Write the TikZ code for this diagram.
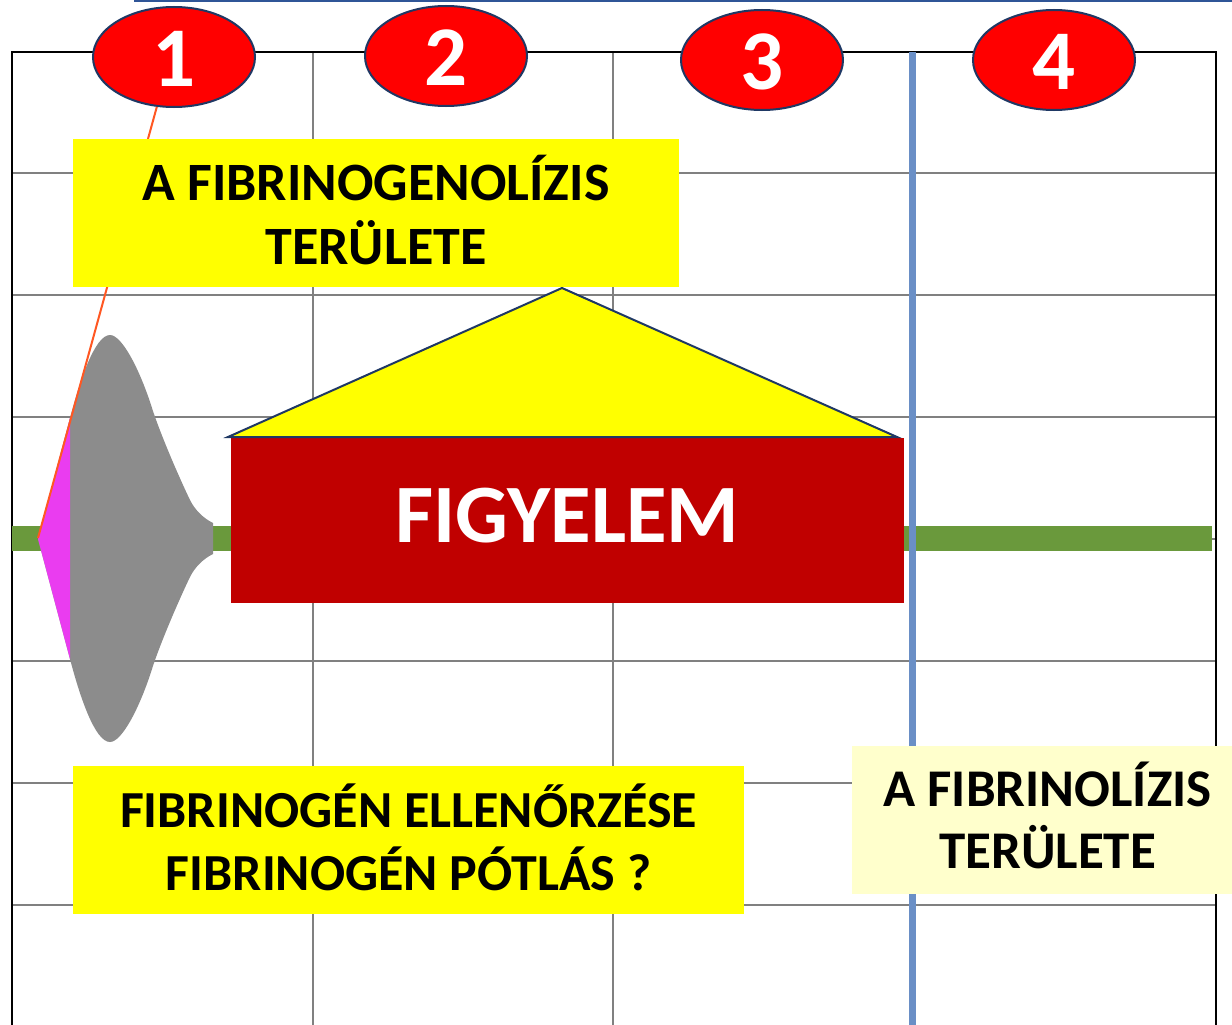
\documentclass[tikz,border=0pt]{standalone}
\usepackage{fontspec}
\setmainfont{Carlito}
\usetikzlibrary{shapes.geometric}
\definecolor{gridgrey}{RGB}{128,128,128}
\definecolor{topblue}{RGB}{47,85,151}
\definecolor{vblue}{RGB}{106,143,198}
\definecolor{lgreen}{RGB}{106,153,60}
\definecolor{spgrey}{RGB}{140,140,140}
\definecolor{magen}{RGB}{234,60,240}
\definecolor{orng}{RGB}{255,87,34}
\definecolor{navy}{RGB}{31,56,100}
\definecolor{darkred}{RGB}{192,0,0}
\definecolor{paleyel}{RGB}{255,255,204}
\definecolor{pureyel}{RGB}{255,255,0}
\definecolor{pured}{RGB}{255,0,0}
\begin{document}
\begin{tikzpicture}[x=1pt,y=-1pt,
  gridline/.style={draw=gridgrey,line width=1.6pt},
  frameline/.style={draw=black,line width=1.8pt},
  numell/.style={ellipse,draw=navy,line width=2pt,fill=pured,text=white,
    minimum width=162pt,minimum height=100pt,inner sep=0pt,
    font=\fontsize{85}{85}\selectfont\bfseries,text height=59pt,text depth=0pt},
  ybox/.style={rectangle,fill=pureyel,inner sep=0pt},
  palebox/.style={rectangle,fill=paleyel,inner sep=0pt},
  boxtext/.style={inner sep=0pt,align=center},
  warnbox/.style={rectangle,fill=darkred,inner sep=0pt,text=white,
    font=\fontsize{83}{83}\selectfont\bfseries,text height=53pt,text depth=8pt}]
\useasboundingbox (0,0) rectangle (1232,1025);
\clip (0,0) rectangle (1232,1025);
\fill[white] (0,0) rectangle (1232,1025);
% grid
\foreach \y in {173,295,417,539,661,783,905} \draw[gridline] (12,\y) -- (1216,\y);
\foreach \x in {313,613,912} \draw[gridline] (\x,52) -- (\x,1025);
\draw[frameline] (12,1025) -- (12,52) -- (1216,52) -- (1216,1025);
% top blue line
\draw[topblue,line width=2pt] (134,1) -- (1232,1);
% numbered ellipses
\node[numell] (e1) at (174,57) {1};
\node[numell] (e2) at (446,56) {2};
\node[numell] (e3) at (762,60) {3};
\node[numell] (e4) at (1054,60) {4};
% green baseline
\draw[lgreen,line width=25pt] (12,538.5) -- (1212,538.5);
% spindle
\fill[spgrey] (38,539) -- (70,418) .. controls (80,380) and (95,335) .. (110,335)
  .. controls (122,335) and (140,370) .. (152,408)
  .. controls (160,433) and (178,475) .. (190,500)
  .. controls (195,510) and (203,518) .. (213,523) -- (213,554)
  .. controls (203,559) and (195,567) .. (190,577)
  .. controls (178,602) and (160,644) .. (152,669)
  .. controls (140,707) and (122,742) .. (110,742)
  .. controls (95,742) and (80,697) .. (70,659) -- cycle;
\fill[magen] (38,539) -- (70,418) -- (70,659) -- cycle;
% orange line
\coordinate (tip) at (38,538);
\draw[orng,line width=2pt] (tip) -- (e1.251);
% top yellow box
\node[ybox,minimum width=606pt,minimum height=148pt] (fglbox) at (376,213) {};
\node[boxtext,font=\fontsize{54}{64}\selectfont\bfseries] (fgl)
  at ([yshift=3pt]fglbox.center) {A FIBRINOGENOLÍZIS\\TERÜLETE};
% red warning box and roof
\node[warnbox,minimum width=673pt,minimum height=165pt] (warn) at (567.5,520) {FIGYELEM};
\coordinate (roofL) at (228,437);
\coordinate (roofR) at (897,437);
\coordinate (apex) at (562,288);
\draw[navy,line width=2pt,fill=pureyel,line join=miter] (roofL) -- (apex) -- (roofR) -- cycle;
% blue vertical line
\draw[vblue,line width=7pt] (912,52) -- (912,1025);
% bottom yellow box
\node[ybox,minimum width=671pt,minimum height=148pt] (fgcbox) at (408.5,840) {};
\node[boxtext,font=\fontsize{52}{63}\selectfont\bfseries] (fgc)
  at ([yshift=3pt]fgcbox.center) {FIBRINOGÉN ELLENŐRZÉSE\\FIBRINOGÉN PÓTLÁS ?};
% right pale box
\node[palebox,minimum width=391pt,minimum height=148pt] (fnlbox) at (1047.5,820) {};
\node[boxtext,font=\fontsize{53}{62}\selectfont\bfseries] (fnl)
  at ([yshift=5pt]fnlbox.center) {A FIBRINOLÍZIS\\TERÜLETE};
\end{tikzpicture}
\end{document}
